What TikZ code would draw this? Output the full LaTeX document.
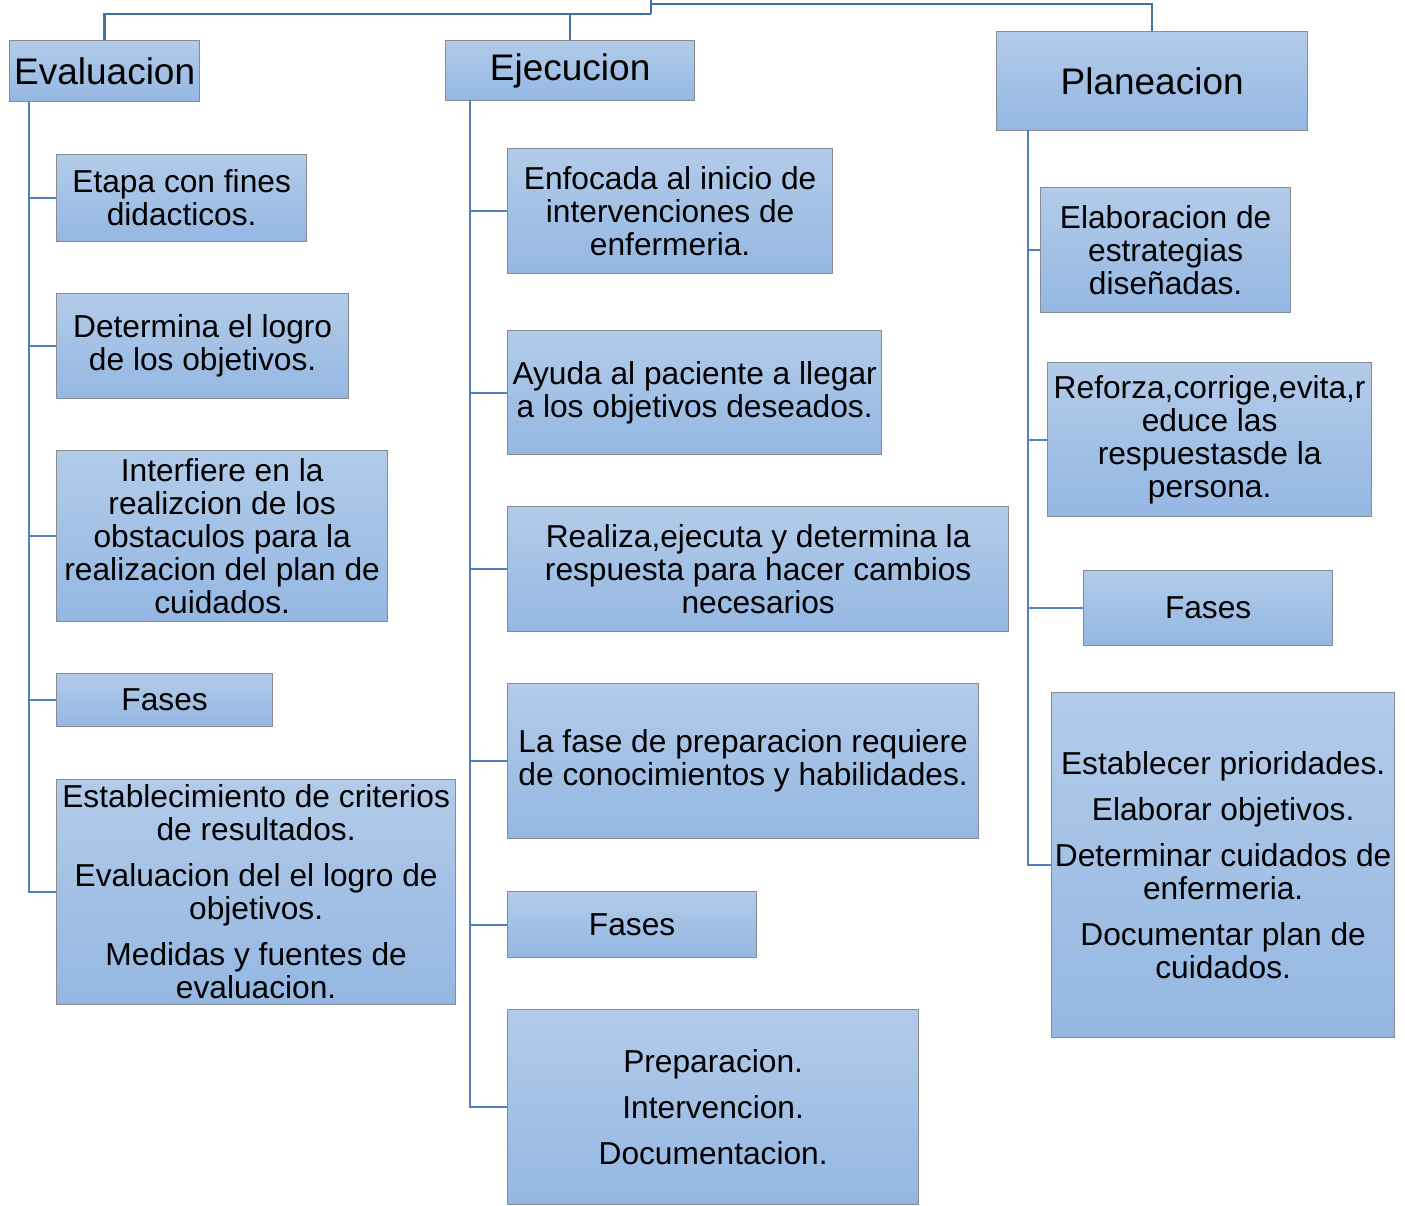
\documentclass[tikz,border=0pt]{standalone}
\usepackage{fontspec}
\setmainfont{Liberation Sans}
\definecolor{boxtop}{RGB}{178,203,233}
\definecolor{boxbot}{RGB}{148,183,226}
\definecolor{boxline}{RGB}{135,140,148}
\definecolor{conn}{RGB}{79,129,189}
\definecolor{topconn}{RGB}{65,113,156}
\begin{document}
\begin{tikzpicture}[x=1pt,y=-1pt,
  box/.style={draw=boxline,line width=1.3pt,top color=boxtop,bottom color=boxbot,
    rectangle,anchor=north west,inner sep=0pt,align=center,text=black,
    font=\fontsize{31.7}{33}\selectfont},
  head/.style={box,font=\fontsize{37}{40}\selectfont},
  link/.style={draw=conn,line width=2pt},
  toplink/.style={draw=topconn,line width=2.5pt}]
\useasboundingbox (0,0) rectangle (1405,1205);
% column heads
\node[head,minimum width=190pt,minimum height=61pt] (eval) at (9,40) {Evaluacion};
\node[head,minimum width=249pt,minimum height=60pt] (ejec) at (445,40) {Ejecucion};
\node[head,minimum width=311pt,minimum height=99pt] (plan) at (996,31) {Planeacion};
% Evaluacion children
\node[box,minimum width=250pt,minimum height=87pt] (e1) at (56,154) {Etapa con fines\\didacticos.};
\node[box,minimum width=292pt,minimum height=105pt] (e2) at (56,293) {Determina el logro\\de los objetivos.};
\node[box,minimum width=331pt,minimum height=171pt] (e3) at (56,450) {Interfiere en la\\realizcion de los\\obstaculos para la\\realizacion del plan de\\cuidados.};
\node[box,minimum width=216pt,minimum height=53pt] (e4) at (56,673) {Fases};
\node[box,minimum width=399pt,minimum height=225pt] (e5) at (56,779) {Establecimiento de criterios\\de resultados.\\[13pt]Evaluacion del el logro de\\objetivos.\\[13pt]Medidas y fuentes de\\evaluacion.};
% Ejecucion children
\node[box,minimum width=325pt,minimum height=125pt] (j1) at (507,148) {Enfocada al inicio de\\intervenciones de\\enfermeria.};
\node[box,minimum width=374pt,minimum height=124pt] (j2) at (507,330) {Ayuda al paciente a llegar\\a los objetivos deseados.};
\node[box,minimum width=501pt,minimum height=125pt] (j3) at (507,506) {Realiza,ejecuta y determina la\\respuesta para hacer cambios\\necesarios};
\node[box,minimum width=471pt,minimum height=155pt] (j4) at (507,683) {La fase de preparacion requiere\\de conocimientos y habilidades.};
\node[box,minimum width=249pt,minimum height=66pt] (j5) at (507,891) {Fases};
\node[box,minimum width=411pt,minimum height=195pt] (j6) at (507,1009) {Preparacion.\\[13pt]Intervencion.\\[13pt]Documentacion.};
% Planeacion children
\node[box,minimum width=250pt,minimum height=125pt] (p1) at (1040,187) {Elaboracion de\\estrategias\\diseñadas.};
\node[box,minimum width=324pt,minimum height=154pt] (p2) at (1047,362) {Reforza,corrige,evita,r\\educe las\\respuestasde la\\persona.};
\node[box,minimum width=249pt,minimum height=75pt] (p3) at (1083,570) {Fases};
\node[box,minimum width=343pt,minimum height=345pt] (p4) at (1051,692) {Establecer prioridades.\\[13pt]Elaborar objetivos.\\[13pt]Determinar cuidados de\\enfermeria.\\[13pt]Documentar plan de\\cuidados.};
% top connectors
\coordinate (root) at (651,0);
\coordinate (jl) at (651,14);
\coordinate (jr) at (651,4);
\draw[toplink] (root) -- (jl);
\draw[toplink] (jl) -| (eval.north);
\draw[toplink] (jl) -| (ejec.north);
\draw[toplink] (jr) -| (plan.north);
% spines
\coordinate (es) at (29,101);
\coordinate (js) at (470,100);
\coordinate (ps) at (1028,130);
\foreach \c in {e1,e2,e3,e4,e5} \draw[link] (es) |- (\c.west);
\foreach \c in {j1,j2,j3,j4,j5,j6} \draw[link] (js) |- (\c.west);
\foreach \c in {p1,p2,p3,p4} \draw[link] (ps) |- (\c.west);
\end{tikzpicture}
\end{document}
